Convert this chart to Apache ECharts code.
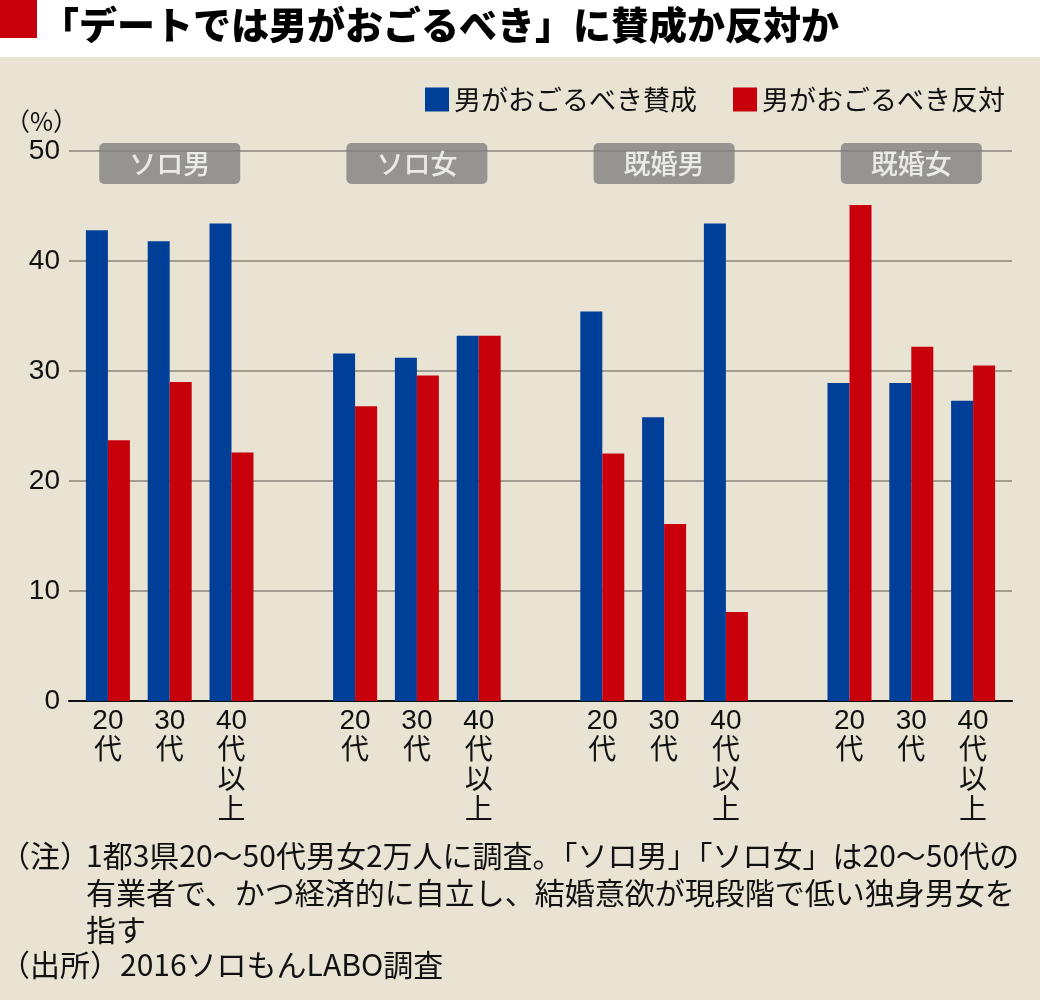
<!DOCTYPE html>
<html>
<head>
<meta charset="utf-8">
<script src="https://cdn.jsdelivr.net/npm/echarts@6/dist/echarts.min.js"></script>
<style>html,body{margin:0;padding:0;background:#fff}#c{width:1040px;height:1000px}</style>
</head>
<body>
<div id="c"></div>
<script>
// ---- data ----
const titleText = '「デートでは男がおごるべき」に賛成か反対か';
const seriesNames = ['男がおごるべき賛成', '男がおごるべき反対'];
const groupLabels = ['ソロ男', 'ソロ女', '既婚男', '既婚女'];
const ageLabels = ['20\n代', '30\n代', '40\n代\n以\n上'];
const agreeValues = [
  [42.8, 41.8, 43.4],
  [31.6, 31.2, 33.2],
  [35.4, 25.8, 43.4],
  [28.9, 28.9, 27.3]
];
const disagreeValues = [
  [23.7, 29.0, 22.6],
  [26.8, 29.6, 33.2],
  [22.5, 16.1, 8.1],
  [45.1, 32.2, 30.5]
];
const yTicks = [0, 10, 20, 30, 40, 50];
const unitLabel = '（%）';
const noteLines = [
  '1都3県20～50代男女2万人に調査。「ソロ男」「ソロ女」は20～50代の',
  '有業者で、かつ経済的に自立し、結婚意欲が現段階で低い独身男女を',
  '指す'
];
const notePrefix = '（注）';
const sourceText = '（出所）2016ソロもんLABO調査';

// ---- build ----
const categories = [];
const agreeData = [];
const disagreeData = [];
const groupCenters = [];
groupLabels.forEach((g, i) => {
  groupCenters.push(categories.length + 1);
  ageLabels.forEach((a, j) => {
    categories.push(a);
    agreeData.push(agreeValues[i][j]);
    disagreeData.push(disagreeValues[i][j]);
  });
  if (i < groupLabels.length - 1) {
    categories.push('');
    agreeData.push('-');
    disagreeData.push('-');
  }
});
const yMin = yTicks[0], yMax = yTicks[yTicks.length - 1], yInt = yTicks[1] - yTicks[0];

const BLUE = '#003f98', RED = '#c8000b', BEIGE = '#e9e3d4', GRID = '#8b857a';
const CJK = '"Noto Sans CJK JP"';
const LAT = '"Liberation Sans", "Noto Sans CJK JP"';

const chart = echarts.init(document.getElementById('c'), null, {renderer: 'canvas'});
const option = {
  backgroundColor: BEIGE,
  animation: false,
  title: {
    text: titleText,
    left: 36, top: -1,
    textStyle: {fontFamily: CJK, fontWeight: 900, fontSize: 38, color: '#000', lineHeight: 42}
  },
  legend: {
    data: seriesNames,
    right: 30, top: 81,
    icon: 'rect', itemWidth: 24, itemHeight: 24, itemGap: 36,
    textStyle: {fontFamily: CJK, fontSize: 27, color: '#111'}
  },
  grid: [
    {left: 69, right: 28, top: 151, bottom: 299},
    {left: 77, right: 36, top: 151, bottom: 299}
  ],
  xAxis: [
    {gridIndex: 0, type: 'value', min: 0, max: 1,
     axisLine: {show: true, lineStyle: {color: '#111', width: 2}},
     axisTick: {show: false}, axisLabel: {show: false}, splitLine: {show: false}},
    {gridIndex: 1, type: 'category', data: categories,
     axisLine: {show: false}, axisTick: {show: false},
     axisLabel: {interval: 0, margin: 5, fontFamily: LAT, fontSize: 28, lineHeight: 30, color: '#111', align: 'center'}}
  ],
  yAxis: [
    {gridIndex: 0, type: 'value', min: yMin, max: yMax, interval: yInt,
     axisLine: {show: false}, axisTick: {show: false},
     axisLabel: {margin: 9, fontFamily: LAT, fontSize: 28, color: '#111'},
     splitLine: {show: true, lineStyle: {color: GRID, width: 1.5}}},
    {gridIndex: 1, type: 'value', min: yMin, max: yMax, interval: yInt, show: false,
     splitLine: {show: false}}
  ],
  series: [
    {name: seriesNames[0], type: 'bar', xAxisIndex: 1, yAxisIndex: 1, data: agreeData,
     barWidth: 22, barGap: '0%', itemStyle: {color: BLUE}, z: 3},
    {name: seriesNames[1], type: 'bar', xAxisIndex: 1, yAxisIndex: 1, data: disagreeData,
     barWidth: 22, barGap: '0%', itemStyle: {color: RED}, z: 3},
    {type: 'scatter', xAxisIndex: 1, yAxisIndex: 1, clip: false, z: 4,
     data: groupLabels.map((g, i) => ({name: g, value: [groupCenters[i], yMax]})),
     symbol: 'circle', symbolSize: 1, itemStyle: {color: 'rgba(0,0,0,0)'},
     label: {show: true, position: 'inside', offset: [0, 12.5], formatter: '{b}',
       fontFamily: CJK, fontSize: 27, fontWeight: 500, color: '#fff',
       backgroundColor: '#7f7f7f', borderRadius: 5,
       width: 141, height: 41, lineHeight: 41, align: 'center', verticalAlign: 'middle'},
     emphasis: {disabled: true}, silent: true}
  ],
  graphic: [
    {type: 'rect', left: 0, top: 0, z: -1, shape: {width: 1040, height: 57}, style: {fill: '#fff'}},
    {type: 'rect', left: 0, top: 0, z: 10, shape: {width: 37, height: 38}, style: {fill: RED}},
    {type: 'text', left: 5, top: 109, z: 10, style: {text: unitLabel, font: '25px ' + CJK, fill: '#111'}},
    {type: 'text', left: 0, top: 837, z: 10, style: {text: notePrefix, font: '30px ' + CJK, fill: '#111', lineHeight: 37}},
    {type: 'text', left: 86, top: 837, z: 10, style: {text: noteLines.join('\n'), font: '30px ' + CJK, fill: '#111', lineHeight: 37}},
    {type: 'text', left: 0, top: 946, z: 10, style: {text: sourceText, font: '30px ' + CJK, fill: '#111', lineHeight: 37}}
  ]
};
chart.setOption(option);
</script>
</body>
</html>
